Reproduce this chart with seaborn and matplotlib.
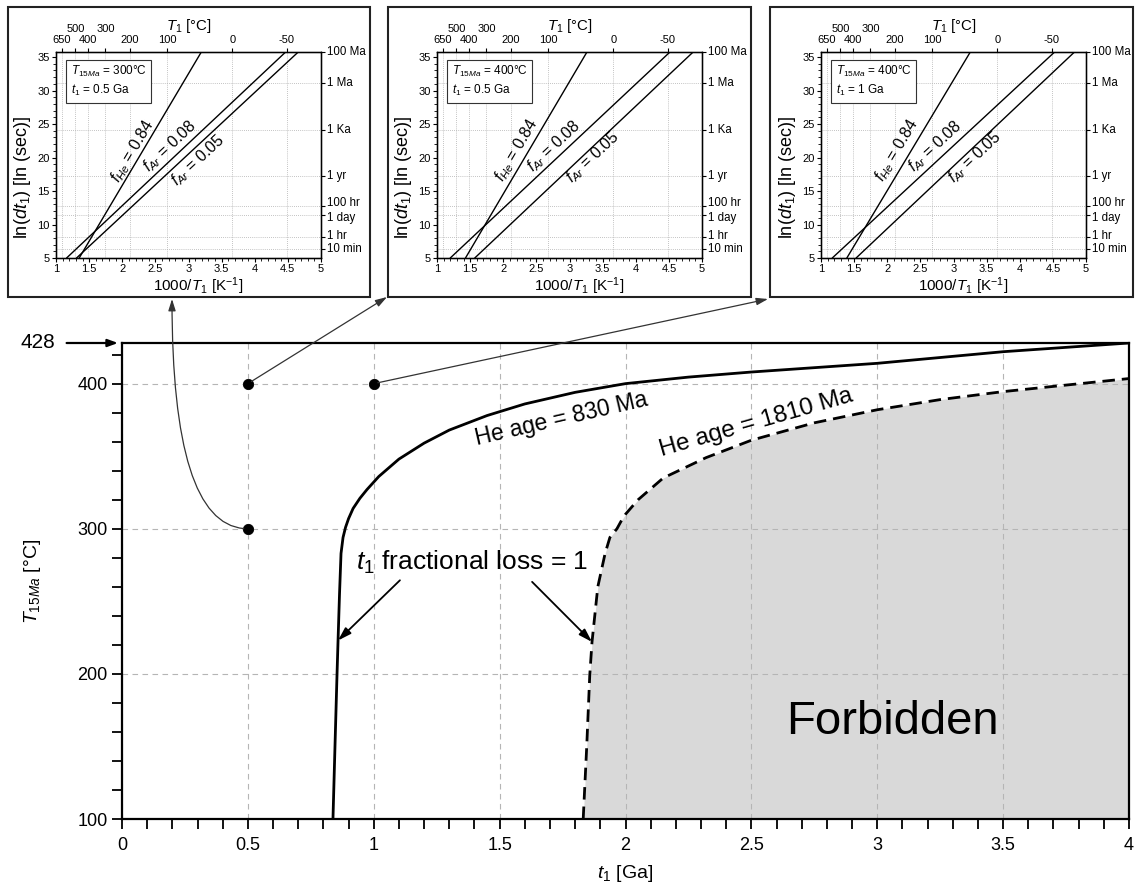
import numpy as np
import pandas as pd
import matplotlib
matplotlib.use("Agg")
import matplotlib.pyplot as plt
import seaborn as sns
from matplotlib.patches import Rectangle
from matplotlib.ticker import MultipleLocator, FixedLocator, FuncFormatter, NullFormatter

# ---------------- data ----------------
he830_t = [0.838, 0.846, 0.854, 0.858, 0.864, 0.870, 0.878, 0.888, 0.900, 0.918, 0.945, 0.973,
           1.02, 1.10, 1.20, 1.30, 1.45, 1.60, 1.80, 2.00, 2.25, 2.50, 2.75, 3.00, 3.25, 3.50, 3.75, 4.00]
he830_T = [100, 150, 199, 222, 255, 283, 294, 301, 307, 314, 321, 327,
           336, 348, 359, 368, 378, 386, 394, 400, 404.5, 408, 411, 414, 418, 422, 425, 428]
he1810_t = [1.832, 1.846, 1.858, 1.867, 1.890, 1.919, 1.938, 1.966, 1.985, 2.00, 2.05, 2.15,
            2.32, 2.50, 2.75, 3.00, 3.25, 3.50, 3.75, 4.00]
he1810_T = [100, 150, 199, 222, 260, 283, 294, 300, 306, 310, 320, 335,
            349, 361, 373, 382, 389, 394.5, 399, 403.5]
sample_t = [0.5, 1.0, 0.5]
sample_T = [400, 400, 300]

# insets
inset_T15 = [300, 400, 400]
inset_t1 = ["0.5", "0.5", "1"]
fHe_x = [[1.35, 3.19], [1.43, 3.26], [1.39, 3.25]]
fAr08_x = [[1.16, 4.46], [1.20, 4.51], [1.17, 4.52]]
fAr05_x = [[1.31, 4.65], [1.57, 4.86], [1.53, 4.82]]
line_y = [5, 35.69]
fHe_lab = [(2.16, 20.9), (2.20, 21.1), (2.14, 21.1)]
fAr08_lab = [(2.72, 21.6), (2.76, 21.6), (2.72, 21.6)]
fAr05_lab = [(3.15, 19.6), (3.36, 20.1), (3.32, 20.1)]
celsius_low = [650, 400, 200, 100, 0, -50]
celsius_high = [500, 300]
time_labels = ['100 Ma', '1 Ma', '1 Ka', '1 yr', '100 hr', '1 day', '1 hr', '10 min']
time_ln = [35.69, 31.08, 24.17, 17.27, 12.79, 11.37, 8.19, 6.40]
time_label_nudge = [0, 0, 0, 0, 1.9, -1.9, 0.6, -0.6]   # small vertical nudges (pt) for crowded labels

# ---------------- style ----------------
sns.set_style("ticks")
plt.rcParams['font.family'] = ['Liberation Sans', 'DejaVu Sans']
plt.rcParams['mathtext.fontset'] = 'custom'
plt.rcParams['mathtext.rm'] = 'Liberation Sans'
plt.rcParams['mathtext.it'] = 'Liberation Sans:italic'
plt.rcParams['mathtext.bf'] = 'Liberation Sans:bold'
for k in ['text.color', 'axes.labelcolor', 'xtick.color', 'ytick.color', 'axes.edgecolor']:
    plt.rcParams[k] = 'black'

W, H = 1138, 889
fig = plt.figure(figsize=(W / 100, H / 100), dpi=100)

# ---------------- main axes ----------------
ax = fig.add_axes([122 / W, 1 - 819 / H, 1007 / W, 476 / H])
ax.set_xlim(0, 4)
ax.set_ylim(100, 428)
ax.set_axisbelow('line')

ax.fill_between(he1810_t, 100, he1810_T, color='#d9d9d9', lw=0, zorder=1)
sns.lineplot(x=he830_t, y=he830_T, sort=False, estimator=None, color='black', lw=2.0, ax=ax, zorder=3)
sns.lineplot(x=he1810_t, y=he1810_T, sort=False, estimator=None, color='black', lw=2.0,
             linestyle=(0, (4.5, 2.5)), ax=ax, zorder=3)
sns.scatterplot(x=sample_t, y=sample_T, s=55, color='black', edgecolor='black', zorder=6, ax=ax, legend=False)

ax.xaxis.set_major_locator(MultipleLocator(0.5))
ax.xaxis.set_minor_locator(MultipleLocator(0.1))
ax.yaxis.set_major_locator(FixedLocator([100, 200, 300, 400]))
ax.yaxis.set_minor_locator(MultipleLocator(20))
ax.xaxis.set_major_formatter(FuncFormatter(lambda v, p: f"{v:g}"))
ax.tick_params(which='both', direction='out', length=7, width=1.3, labelsize=13, colors='black')
ax.tick_params(axis='x', which='major', pad=6)
ax.grid(True, which='major', ls=(0, (5, 4)), color='#b5b5b5', lw=0.8)
for s in ax.spines.values():
    s.set_visible(True)
    s.set_linewidth(1.6)
    s.set_color('black')

ax.set_xlabel(r'$t_\mathit{1}$ [Ga]', fontsize=14)
ax.xaxis.set_label_coords(0.5, -0.092)
ax.set_ylabel(r'$T_{15Ma}$ [°C]', fontsize=14)
ax.yaxis.set_label_coords(-0.078, 0.5)

# 428 marker
ax.text(-0.335, 428, '428', fontsize=15, ha='center', va='center')
ax.annotate('', xy=(-0.016, 428), xytext=(-0.22, 428), annotation_clip=False,
            arrowprops=dict(arrowstyle='-|>,head_length=0.6,head_width=0.22', color='black', lw=1.6,
                            shrinkA=0, shrinkB=0))

ax.text(1.745, 375.5, 'He age = 830 Ma', fontsize=16.5, rotation=13, ha='center', va='center',
        rotation_mode='anchor', zorder=5)
ax.text(2.52, 373, 'He age = 1810 Ma', fontsize=17.5, rotation=16, ha='center', va='center',
        rotation_mode='anchor', zorder=5)
ax.text(1.39, 276.5, r'$t_\mathit{1}$ fractional loss = 1', fontsize=19, ha='center', va='center', zorder=5)
for (x0, y0), (x1, y1) in [((1.104, 264.5), (0.858, 223)), ((1.629, 263.4), (1.867, 222))]:
    ax.annotate('', xy=(x1, y1), xytext=(x0, y0),
                arrowprops=dict(arrowstyle='-|>,head_length=0.8,head_width=0.25', color='black', lw=1.3,
                                shrinkA=0, shrinkB=0), zorder=5)
ax.text(3.06, 167, 'Forbidden', fontsize=34, ha='center', va='center', zorder=5)

# ---------------- insets ----------------
inset_left = [56, 437, 821]
box_x = [(8, 370), (388, 751), (770, 1133)]
conn_target = [(172, 299), (387, 297), (768, 299)]
conn_source = [(0.5, 300), (0.5, 400), (1.0, 400)]

for i in range(3):
    bx0, bx1 = box_x[i]
    fig.add_artist(Rectangle((bx0 / W, 1 - 297 / H), (bx1 - bx0) / W, (297 - 7) / H,
                             transform=fig.transFigure, fill=False, lw=1.5, ec='#222222'))
    ia = fig.add_axes([inset_left[i] / W, 1 - 258 / H, 265 / W, 206 / H])
    ia.set_xlim(1, 5)
    ia.set_ylim(5, 35.75)
    for c in celsius_low + celsius_high:
        ia.axvline(1000 / (c + 273.15), ls=(0, (1, 1.5)), color='#b0b0b0', lw=0.6, zorder=0.5)
    for t in time_ln:
        ia.axhline(t, ls=(0, (1, 1.5)), color='#b0b0b0', lw=0.6, zorder=0.5)

    df = pd.DataFrame({
        'x': fHe_x[i] + fAr08_x[i] + fAr05_x[i],
        'y': line_y * 3,
        'line': ['He'] * 2 + ['Ar08'] * 2 + ['Ar05'] * 2,
    })
    sns.lineplot(data=df, x='x', y='y', units='line', estimator=None, sort=False,
                 color='black', lw=1.0, ax=ia, legend=False)

    ia.xaxis.set_major_locator(MultipleLocator(0.5))
    ia.xaxis.set_minor_locator(MultipleLocator(0.1))
    ia.yaxis.set_major_locator(MultipleLocator(5))
    ia.yaxis.set_minor_locator(MultipleLocator(1))
    ia.xaxis.set_major_formatter(FuncFormatter(lambda v, p: f"{v:g}"))
    ia.tick_params(which='major', direction='out', length=3, width=0.8, labelsize=8, pad=1.5)
    ia.tick_params(which='minor', direction='out', length=2, width=0.6)
    for s in ia.spines.values():
        s.set_visible(True)
        s.set_linewidth(1.0)
    ia.set_xlabel(r'1000/$T_\mathit{1}$ [K$^{-1}$]', fontsize=11)
    ia.xaxis.set_label_coords(0.538, -0.085)
    ia.set_ylabel(r'ln($dt_\mathit{1}$) [ln (sec)]', fontsize=13)
    ia.yaxis.set_label_coords(-0.088, 0.39)

    # top axis in Celsius
    it = ia.twiny()
    it.set_xlim(1, 5)
    it.set_xticks([1000 / (c + 273.15) for c in celsius_low], [f"{c:g}" for c in celsius_low])
    it.set_xticks([1000 / (c + 273.15) for c in celsius_high], [f"{c:g}" for c in celsius_high], minor=True)
    it.tick_params(which='major', direction='out', length=3, width=0.8, labelsize=8, pad=1.8)
    it.tick_params(which='minor', direction='out', length=3, width=0.8, labelsize=8, pad=10)
    it.set_xlabel(r'$T_\mathit{1}$ [°C]', fontsize=10.8)
    it.xaxis.set_label_coords(0.5, 1.105)

    # right axis in time units (labels placed as annotations to keep crowded ones apart)
    ir = ia.twinx()
    ir.set_ylim(5, 35.75)
    ir.set_yticks(time_ln)
    ir.yaxis.set_major_formatter(NullFormatter())
    ir.tick_params(direction='out', length=3, width=0.8)
    for lab, yv, dy in zip(time_labels, time_ln, time_label_nudge):
        ir.annotate(lab, xy=(1.0, yv), xycoords=('axes fraction', 'data'),
                    xytext=(4.5, dy), textcoords='offset points',
                    fontsize=8.3, ha='left', va='center', annotation_clip=False)

    # rotated labels along lines
    def angle(xs):
        p0 = ia.transData.transform((xs[0], line_y[0]))
        p1 = ia.transData.transform((xs[1], line_y[1]))
        return np.degrees(np.arctan2(p1[1] - p0[1], p1[0] - p0[0]))
    ia.text(*fHe_lab[i], r'$f_{He}$ = 0.84', fontsize=11.5, rotation=angle(fHe_x[i]),
            ha='center', va='center', rotation_mode='anchor')
    ia.text(*fAr08_lab[i], r'$f_{Ar}$ = 0.08', fontsize=11.5, rotation=angle(fAr08_x[i]),
            ha='center', va='center', rotation_mode='anchor')
    ia.text(*fAr05_lab[i], r'$f_{Ar}$ = 0.05', fontsize=11.5, rotation=angle(fAr05_x[i]),
            ha='center', va='center', rotation_mode='anchor')

    ia.text(0.055, 0.94, f"$T_{{15Ma}}$ = {inset_T15[i]}°C\n$t_\\mathit{{1}}$ = {inset_t1[i]} Ga",
            transform=ia.transAxes, fontsize=8.5, ha='left', va='top', linespacing=1.3,
            bbox=dict(boxstyle='square,pad=0.4', fc='white', ec='#333333', lw=0.8), zorder=6)

    # connector from sample point to inset box
    tx, ty = conn_target[i]
    cs = "angle3,angleA=180,angleB=90" if i == 0 else "arc3,rad=0"
    ax.annotate('', xy=(tx, H - ty), xycoords='figure pixels',
                xytext=conn_source[i], textcoords='data', annotation_clip=False,
                arrowprops=dict(arrowstyle='-|>,head_length=0.7,head_width=0.22', color='#333333', lw=0.9,
                                shrinkA=3, shrinkB=0, connectionstyle=cs), zorder=7)

fig.savefig('out.png', dpi=100)
